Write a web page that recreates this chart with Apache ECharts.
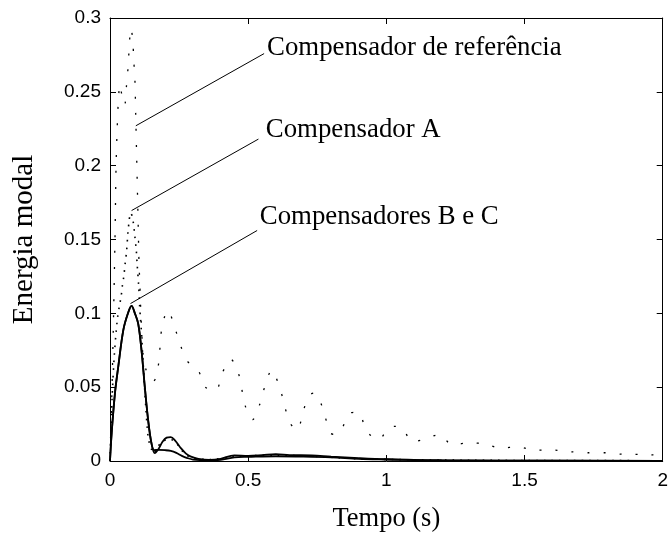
<!DOCTYPE html>
<html>
<head>
<meta charset="utf-8">
<script src="https://cdn.jsdelivr.net/npm/echarts@6/dist/echarts.min.js"></script>
<style>html,body{margin:0;padding:0;background:#fff}#c{width:671px;height:538px}</style>
</head>
<body>
<div id="c"></div>
<script>
// Compensador de referência
var refT = [0,0.006,0.012,0.018,0.022,0.026,0.03,0.036,0.046,0.053,0.06,0.066,0.07,0.0755,0.082,0.086,0.09,0.093,0.096,0.099,0.102,0.105,0.108,0.113,0.12,0.13,0.146,0.157,0.168,0.177,0.189,0.21,0.234,0.254,0.278,0.32,0.345,0.384,0.405,0.437,0.464,0.49,0.516,0.543,0.561,0.585,0.612,0.63,0.65,0.678,0.698,0.719,0.737,0.755,0.777,0.797,0.815,0.836,0.866,0.885,0.905,0.929,0.973,1.011,1.035,1.059,1.095,1.145,1.193,1.238,1.301,1.361,1.415,1.475,1.535,1.6,1.664,1.729,1.796,1.862,1.927,2.0];
var refV = [0,0.04,0.09,0.15,0.2,0.225,0.243,0.255,0.244,0.241,0.255,0.268,0.282,0.293,0.286,0.271,0.259,0.235,0.21,0.185,0.16,0.134,0.12,0.094,0.072,0.062,0.058,0.054,0.057,0.068,0.092,0.102,0.0905,0.079,0.068,0.061,0.05,0.048,0.059,0.069,0.06,0.037,0.028,0.039,0.051,0.0615,0.051,0.039,0.026,0.021,0.033,0.044,0.046,0.043,0.031,0.019,0.018,0.021,0.032,0.033,0.032,0.02,0.0146,0.023,0.0235,0.022,0.013,0.0153,0.018,0.0108,0.0124,0.0113,0.0086,0.0097,0.0074,0.0074,0.0063,0.0056,0.0056,0.0045,0.0045,0.0035];
// Compensador A
var aT = [0,0.007,0.015,0.026,0.034,0.04,0.045,0.05,0.055,0.06,0.065,0.069,0.074,0.08,0.084,0.09,0.095,0.098,0.104,0.107,0.11,0.114,0.117,0.12,0.125,0.13,0.135,0.14,0.15,0.158,0.17,0.19,0.215,0.24,0.27,0.3,0.36,0.45,0.6,0.75,0.9,1.1,1.3,1.6,2.0];
var aV = [0,0.04,0.07,0.095,0.105,0.111,0.119,0.125,0.134,0.142,0.155,0.162,0.168,0.166,0.162,0.152,0.143,0.134,0.118,0.106,0.097,0.087,0.076,0.066,0.05,0.035,0.022,0.014,0.008,0.005,0.009,0.013,0.015,0.012,0.005,0.002,0.001,0.003,0.004,0.003,0.0015,0.0008,0.0005,0.0003,0.0002];
// Compensador B
var bT = [0,0.006,0.018,0.03,0.048,0.065,0.078,0.09,0.102,0.114,0.126,0.138,0.15,0.162,0.175,0.19,0.205,0.22,0.235,0.255,0.275,0.293,0.32,0.36,0.4,0.45,0.5,0.55,0.6,0.65,0.73,0.8,0.9,1.0,1.1,1.2,1.4,2.0];
var bV = [0,0.019,0.046,0.064,0.0885,0.1,0.105,0.1,0.093,0.075,0.05,0.0277,0.012,0.0054,0.008,0.013,0.0158,0.0162,0.014,0.009,0.005,0.003,0.0015,0.0008,0.0015,0.0038,0.0035,0.004,0.0047,0.004,0.0038,0.003,0.002,0.0012,0.0008,0.0005,0.0003,0.0001];
// Compensador C
var cT = [0,0.006,0.018,0.03,0.048,0.065,0.078,0.09,0.102,0.114,0.126,0.138,0.15,0.16,0.175,0.2,0.22,0.24,0.26,0.28,0.3,0.35,0.4,0.45,0.5,0.6,0.7,0.8,0.9,1.0,1.1,1.25,2.0];
var cV = [0,0.019,0.046,0.064,0.0885,0.1,0.105,0.1,0.093,0.075,0.05,0.0277,0.012,0.0074,0.0075,0.0073,0.0068,0.0055,0.0035,0.002,0.001,0.0005,0.0008,0.0025,0.0028,0.0032,0.003,0.0025,0.0015,0.001,0.0006,0.0003,0.0001];
var xTicks = [0, 0.5, 1, 1.5, 2];
var yTicks = [0, 0.05, 0.1, 0.15, 0.2, 0.25, 0.3];
var labelTexts = ['Compensador de referência', 'Compensador A', 'Compensadores B e C'];
var labelAt = [[0.5683, 0.2799], [0.5637, 0.2245], [0.5421, 0.1651]];
var leaderLines = [[[0.0935, 0.2270], [0.5576, 0.2759]], [[0.0781, 0.1696], [0.5371, 0.2180]], [[0.0741, 0.1066], [0.5324, 0.1561]]];

function zip(t, v) { return t.map(function (x, i) { return [x, v[i]]; }); }

var chart = echarts.init(document.getElementById('c'), null, {renderer: 'canvas'});
var axisCommon = {
  type: 'value',
  axisLine: {show: true, onZero: false, lineStyle: {color: '#000', width: 1}},
  axisTick: {show: true, inside: true, length: 6, lineStyle: {color: '#000', width: 1}},
  splitLine: {show: false}
};
var tickFont = {color: '#000', fontFamily: 'Liberation Sans, Arial', fontSize: 19};
var serif = 'Liberation Serif, Times New Roman, serif';
chart.setOption({
  animation: false,
  backgroundColor: '#fff',
  grid: {left: 110, right: 5, top: 18, bottom: 77, containLabel: false},
  xAxis: [
    Object.assign({}, axisCommon, {
      min: xTicks[0], max: xTicks[xTicks.length - 1], interval: 0.5, position: 'bottom',
      axisLabel: Object.assign({margin: 10}, tickFont),
      name: 'Tempo (s)', nameLocation: 'middle', nameGap: 45,
      nameTextStyle: {fontFamily: serif, fontSize: 26.5, color: '#000'}
    }),
    Object.assign({}, axisCommon, {
      min: xTicks[0], max: xTicks[xTicks.length - 1], interval: 0.5, position: 'top',
      axisLabel: {show: false}
    })
  ],
  yAxis: [
    Object.assign({}, axisCommon, {
      min: yTicks[0], max: yTicks[yTicks.length - 1], interval: 0.05, position: 'left',
      axisLabel: Object.assign({margin: 9}, tickFont),
      name: 'Energia modal', nameLocation: 'middle', nameGap: 71,
      nameTextStyle: {fontFamily: serif, fontSize: 29, color: '#000'}
    }),
    Object.assign({}, axisCommon, {
      min: yTicks[0], max: yTicks[yTicks.length - 1], interval: 0.05, position: 'right',
      axisLabel: {show: false}
    })
  ],
  series: [
    {
      name: labelTexts[0], type: 'line', data: zip(refT, refV), showSymbol: false, smooth: 0.3,
      lineStyle: {color: '#000', width: 1.3, type: [2, 14]}, z: 3,
      markLine: {
        silent: true, symbol: ['none', 'none'], label: {show: false},
        lineStyle: {color: '#000', width: 1, type: 'solid'},
        data: leaderLines.map(function (l) { return [{coord: l[0]}, {coord: l[1]}]; })
      },
      markPoint: {
        silent: true, symbol: 'circle', symbolSize: 0,
        itemStyle: {color: 'rgba(0,0,0,0)'},
        label: {show: true, position: 'right', distance: 0, color: '#000', fontFamily: serif, fontSize: 26.8,
          formatter: function (p) { return p.name; }},
        data: labelTexts.map(function (s, i) { return {name: s, coord: labelAt[i]}; })
      }
    },
    {
      name: labelTexts[1], type: 'line', data: zip(aT, aV), showSymbol: false, smooth: 0.3,
      lineStyle: {color: '#000', width: 1.6, type: [1.6, 6]}, z: 3
    },
    {
      name: 'Compensador B', type: 'line', data: zip(bT, bV), showSymbol: false, smooth: 0.35,
      lineStyle: {color: '#000', width: 1.8, type: 'solid'}, z: 4
    },
    {
      name: 'Compensador C', type: 'line', data: zip(cT, cV), showSymbol: false, smooth: 0.35,
      lineStyle: {color: '#000', width: 1.8, type: 'solid'}, z: 4
    }
  ]
});
</script>
</body>
</html>
